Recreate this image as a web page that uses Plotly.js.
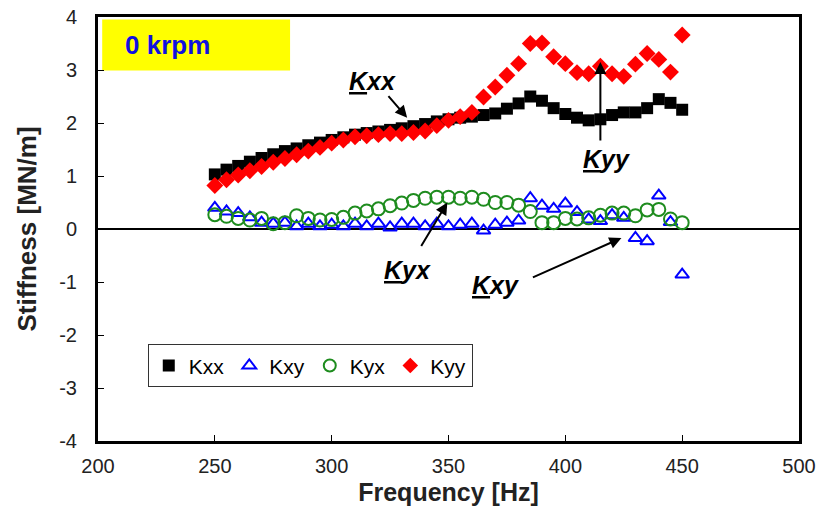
<!DOCTYPE html>
<html>
<head>
<meta charset="utf-8">
<script src="https://cdn.plot.ly/plotly-3.0.1.min.js"></script>
<style>html,body{margin:0;padding:0;background:#fff;}#chart{width:827px;height:519px;}</style>
</head>
<body>
<div id="chart"></div>
<script>
const freq = [250,255,260,265,270,275,280,285,290,295,300,305,310,315,320,325,330,335,340,345,350,355,360,365,370,375,380,385,390,395,400,405,410,415,420,425,430,435,440,445,450];
const kxx = [1.03,1.12,1.19,1.27,1.34,1.41,1.47,1.52,1.58,1.63,1.68,1.73,1.78,1.81,1.84,1.87,1.9,1.94,1.98,2.03,2.07,2.1,2.12,2.15,2.18,2.27,2.37,2.5,2.42,2.28,2.17,2.1,2.05,2.07,2.15,2.2,2.2,2.28,2.45,2.38,2.25];
const kxy = [0.4,0.33,0.3,0.22,0.12,0.1,0.12,0.05,0.1,0.05,0.08,0.05,0.1,0.05,0.1,0.03,0.1,0.1,0.05,0.1,0.05,0.08,0.1,-0.03,0.08,0.12,0.16,0.58,0.44,0.38,0.48,0.32,0.18,0.15,0.26,0.21,-0.17,-0.23,0.63,0.13,-0.86];
const kyx = [0.27,0.24,0.2,0.17,0.2,0.1,0.12,0.25,0.2,0.17,0.18,0.22,0.3,0.34,0.38,0.44,0.49,0.54,0.58,0.6,0.6,0.58,0.6,0.56,0.5,0.5,0.45,0.33,0.12,0.12,0.2,0.19,0.21,0.26,0.3,0.3,0.25,0.36,0.37,0.19,0.12];
const kyy = [0.82,0.93,1.02,1.1,1.18,1.26,1.33,1.4,1.47,1.54,1.62,1.68,1.74,1.76,1.78,1.8,1.8,1.82,1.85,1.95,2.05,2.12,2.2,2.49,2.68,2.9,3.12,3.5,3.51,3.25,3.12,2.95,2.93,3.07,2.93,2.88,3.11,3.31,3.2,2.96,3.66];
const yTicks = [-4,-3,-2,-1,0,1,2,3,4];
const xTicks = [200,250,300,350,400,450,500];

const FONT = 'Arial, "Liberation Sans", sans-serif';
const traces = [
  {x: freq, y: kxx, name: 'Kxx', mode: 'markers', type: 'scatter',
   marker: {symbol: 'square', size: 12, color: '#000000'}},
  {x: freq, y: kxy, name: 'Kxy', mode: 'markers', type: 'scatter',
   marker: {symbol: 'triangle-up-open', size: 12, color: '#0000FF', line: {width: 2, color: '#0000FF'}}},
  {x: freq, y: kyx, name: 'Kyx', mode: 'markers', type: 'scatter',
   marker: {symbol: 'circle-open', size: 13, color: '#1E8C1E', line: {width: 2, color: '#1E8C1E'}}},
  {x: freq, y: kyy, name: 'Kyy', mode: 'markers', type: 'scatter',
   marker: {symbol: 'diamond', size: 13, color: '#FF0000'}}
];

const labelFont = {family: FONT, size: 25, color: '#000'};
const arrowBase = {xref: 'x', yref: 'y', showarrow: true, arrowhead: 2, arrowsize: 1.2,
                   arrowwidth: 2, arrowcolor: '#000', text: '', standoff: 0};
const layout = {
  width: 827, height: 519,
  margin: {l: 98, r: 28, t: 17, b: 78},
  paper_bgcolor: '#fff', plot_bgcolor: '#fff',
  showlegend: true,
  legend: {orientation: 'h', x: 0.071, y: 0.228, xanchor: 'left', yanchor: 'top',
           bordercolor: '#333', borderwidth: 1, bgcolor: '#fff',
           font: {family: FONT, size: 21, color: '#000'}, itemsizing: 'constant',
           tracegroupgap: 0, itemwidth: 30},
  xaxis: {range: [200, 500], tickvals: xTicks, ticktext: xTicks.map(String),
          ticks: 'inside', ticklen: 6, tickcolor: '#000', tickwidth: 1, ticklabelstandoff: 5,
          showgrid: false, zeroline: false, showline: true, linecolor: '#000', linewidth: 3, mirror: true,
          tickfont: {family: FONT, size: 20, color: '#222'},
          title: {text: '<b>Frequency [Hz]</b>', font: {family: FONT, size: 25, color: '#222'}, standoff: 8}},
  yaxis: {range: [-4, 4], tickvals: yTicks, ticktext: yTicks.map(String),
          ticks: 'inside', ticklen: 6, tickcolor: '#000', tickwidth: 1, ticklabelstandoff: 14,
          showgrid: false, zeroline: true, zerolinecolor: '#000', zerolinewidth: 2,
          showline: true, linecolor: '#000', linewidth: 3, mirror: true,
          tickfont: {family: FONT, size: 20, color: '#222'},
          title: {text: '<b>Stiffness [MN/m]</b>', font: {family: FONT, size: 26, color: '#222'}, standoff: 16}},
  shapes: [
    {type: 'rect', xref: 'paper', yref: 'paper', x0: 0.006, x1: 0.274, y0: 0.874, y1: 0.994,
     fillcolor: '#FFFF00', line: {width: 0}, layer: 'below'}
  ],
  annotations: [
    {xref: 'paper', yref: 'paper', x: 0.035, y: 0.935, xanchor: 'left', yanchor: 'middle', showarrow: false,
     text: '<b>0 krpm</b>', font: {family: FONT, size: 26, color: '#1010E0'}},
    Object.assign({x: 332.3, y: 2.1, ax: -20, ay: -23}, arrowBase),
    {xref: 'x', yref: 'y', x: 317.5, y: 2.8, showarrow: false, text: '<b><i><u>K</u>xx</i></b>', font: labelFont},
    Object.assign({x: 415, y: 3.15, ax: 0, ay: 80}, arrowBase),
    {xref: 'x', yref: 'y', x: 417.5, y: 1.33, showarrow: false, text: '<b><i><u>K</u>yy</i></b>', font: labelFont},
    Object.assign({x: 349.5, y: 0.5, ax: -27, ay: 45}, arrowBase),
    {xref: 'x', yref: 'y', x: 332.5, y: -0.78, showarrow: false, text: '<b><i><u>K</u>yx</i></b>', font: labelFont},
    Object.assign({x: 424, y: -0.17, ax: -90, ay: 40}, arrowBase),
    {xref: 'x', yref: 'y', x: 370, y: -1.05, showarrow: false, text: '<b><i><u>K</u>xy</i></b>', font: labelFont}
  ]
};

Plotly.newPlot('chart', traces, layout, {displayModeBar: false, staticPlot: true});
</script>
</body>
</html>
